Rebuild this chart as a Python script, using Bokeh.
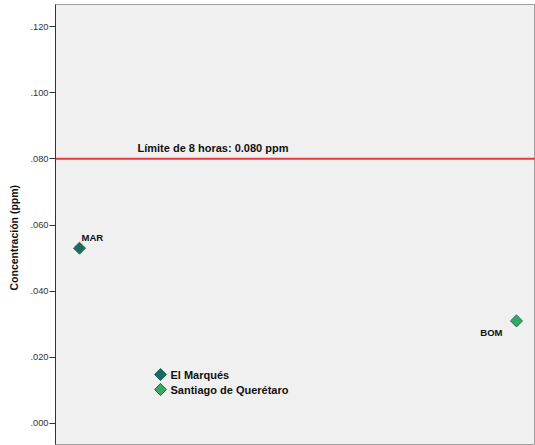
import math
from bokeh.plotting import figure
from bokeh.models import Range1d, Span, Label, FixedTicker, ColumnDataSource, Title
from bokeh.embed import file_html
from bokeh.resources import INLINE

# ---- data ----
stations = ["MAR", "BOM"]
municipios = ["El Marqués", "Santiago de Querétaro"]
conc = [0.053, 0.031]
x_pos = [1, 2]
limit_value = 0.080
limit_text = "Límite de 8 horas: 0.080 ppm"
y_ticks = [0.000, 0.020, 0.040, 0.060, 0.080, 0.100, 0.120]
y_tick_labels = [".000", ".020", ".040", ".060", ".080", ".100", ".120"]
y_label = "Concentración (ppm)"

fills = ["#1e6b5e", "#35a862"]
lines = ["#1e6b5e", "#1d6e5e"]

FONT = "Liberation Sans"
FRAME_W, FRAME_H = 480, 440

p = figure(width=535, height=445, output_backend="svg", toolbar_location=None,
           x_range=Range1d(1 - 24 / 437, 2 + 19 / 437),
           y_range=Range1d(-0.006364, 0.126667),
           min_border_left=55, min_border_right=0, min_border_top=4, min_border_bottom=1,
           x_axis_location=None)
# pixel-unit ranges for placing the legend inside the frame
p.extra_x_ranges = {"px": Range1d(0, FRAME_W)}
p.extra_y_ranges = {"px": Range1d(0, FRAME_H)}

p.background_fill_color = "#f0f0f0"
p.border_fill_color = "white"
p.outline_line_color = "#a0a0a0"
p.outline_line_width = 1
p.xgrid.visible = False
p.ygrid.visible = False

ax = p.yaxis[0]
ax.ticker = FixedTicker(ticks=y_ticks)
ax.major_label_overrides = {t: l for t, l in zip(y_ticks, y_tick_labels)}
ax.minor_tick_line_color = None
ax.major_tick_out = 6
ax.major_tick_in = 0
ax.major_tick_line_color = "#333333"
ax.axis_line_color = "#333333"
ax.major_label_text_font = FONT
ax.major_label_text_font_size = "9.3px"
ax.major_label_text_color = "#333333"
ax.major_label_standoff = 1

# axis title as a side title (SPSS places it slightly below the frame centre)
p.add_layout(Title(text=y_label, align="left", offset=154, standoff=12,
                   vertical_align="top",
                   text_font=FONT, text_font_style="bold", text_font_size="10.5px",
                   text_color="#111111"), "left")

p.add_layout(Span(location=limit_value, dimension="width", line_color="#e8393e", line_width=2))
p.add_layout(Label(x=82, x_units="screen", y=limit_value, y_offset=5, text=limit_text,
                   text_font=FONT, text_font_style="bold", text_font_size="11px",
                   text_color="#111111", text_baseline="bottom"))

# legend layout (pixels inside the frame, from bottom-left)
leg_x = 105
leg_y0 = 70
leg_dy = 15

for i in range(len(stations)):
    src = ColumnDataSource(dict(x=[x_pos[i]], y=[conc[i]], st=[stations[i]]))
    p.scatter("x", "y", source=src, marker="square", size=8.5, angle=math.pi / 4,
              fill_color=fills[i], line_color=lines[i], line_width=1)
    if i == 0:
        p.text("x", "y", text="st", source=src, x_offset=2, y_offset=-11,
               text_align="left", text_baseline="middle", text_font_size="9.5px",
               text_font_style="bold", text_color="#111111", text_font={"value": FONT})
    else:
        p.text("x", "y", text="st", source=src, x_offset=-14, y_offset=12,
               text_align="right", text_baseline="middle", text_font_size="9.5px",
               text_font_style="bold", text_color="#111111", text_font={"value": FONT})

    lsrc = ColumnDataSource(dict(x=[leg_x], y=[leg_y0 - i * leg_dy], t=[municipios[i]]))
    p.scatter("x", "y", source=lsrc, marker="square", size=8.5, angle=math.pi / 4,
              fill_color=fills[i], line_color=lines[i], line_width=1,
              x_range_name="px", y_range_name="px")
    p.text("x", "y", text="t", source=lsrc, x_offset=10, text_align="left",
           text_baseline="middle", text_font_size="11px", text_font_style="bold",
           text_color="#111111", text_font={"value": FONT},
           x_range_name="px", y_range_name="px")

open("out.html", "w").write(file_html(p, INLINE))
